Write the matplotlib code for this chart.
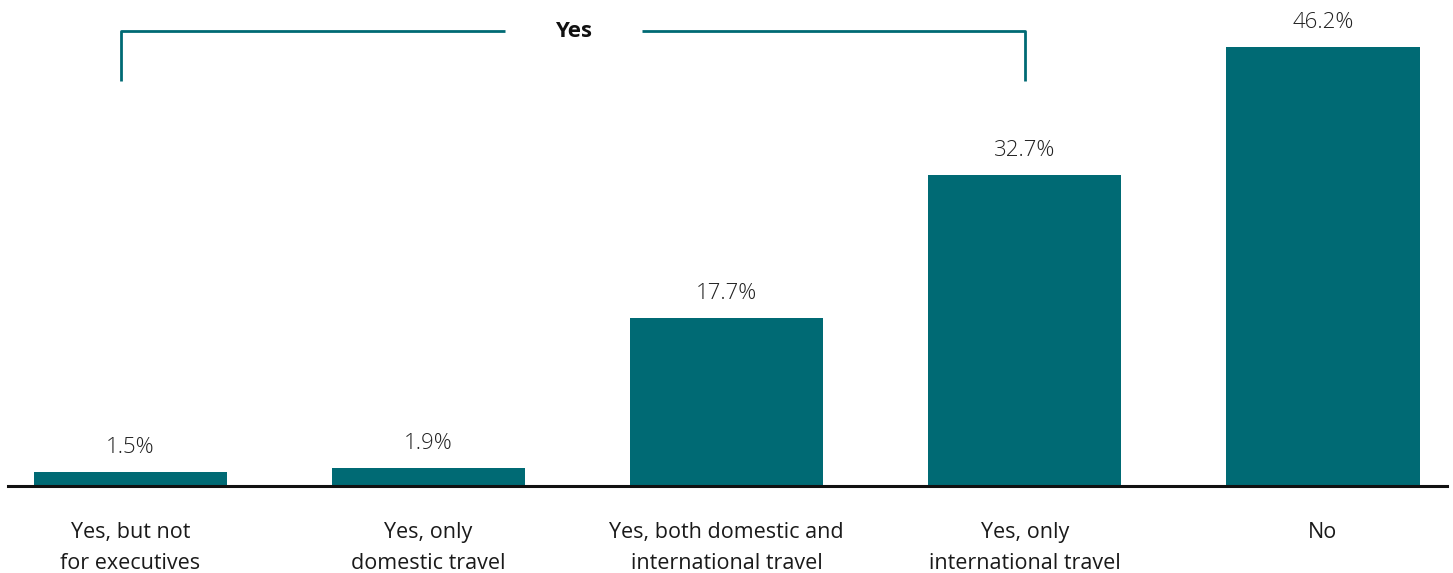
import matplotlib
matplotlib.use("Agg")
import matplotlib.pyplot as plt

categories = ["Yes, but not\nfor executives", "Yes, only\ndomestic travel",
              "Yes, both domestic and\ninternational travel", "Yes, only\ninternational travel", "No"]
values = [1.5, 1.9, 17.7, 32.7, 46.2]
value_labels = ["1.5%", "1.9%", "17.7%", "32.7%", "46.2%"]
bracket_label = "Yes"

TEAL = "#006a74"
plt.rcParams['font.family'] = ['Open Sans', 'DejaVu Sans']

W, H = 1453, 573
fig = plt.figure(figsize=(W / 100, H / 100), dpi=100)
ax = fig.add_axes([8 / W, (H - 486) / H, (1447 - 8) / W, 486 / H])

x = list(range(len(values)))
bars = ax.bar(x, values, width=0.648, color=TEAL, zorder=2)
ax.set_xlim(-0.41, 4.416)
ax.set_ylim(0, 51.15)

for xi, v, lab in zip(x, values, value_labels):
    ax.annotate(lab, (xi, v), xytext=(0, 10), textcoords="offset points",
                ha="center", va="bottom", fontsize=16, color="#222222",
                fontweight="light")

ax.set_xticks(x)
ax.set_xticklabels(categories, fontsize=15.5, color="#1a1a1a", linespacing=1.62)
ax.tick_params(axis="x", length=0, pad=26)
ax.set_yticks([])
for s in ["top", "right", "left"]:
    ax.spines[s].set_visible(False)
ax.spines["bottom"].set_linewidth(2.2)
ax.spines["bottom"].set_color("#111111")

# bracket over the "Yes" answers
y_top, y_bot = 47.88, 42.62
xl, xr = -0.03, 3.0
gap_l, gap_r = 1.258, 1.715
kw = dict(color=TEAL, lw=2, clip_on=False, solid_capstyle="butt")
ax.plot([xl, xl, gap_l], [y_bot, y_top, y_top], **kw)
ax.plot([gap_r, xr, xr], [y_top, y_top, y_bot], **kw)
ax.text((gap_l + gap_r) / 2, y_top, bracket_label, ha="center", va="center",
        fontsize=16, fontweight="bold", color="#111111")

fig.savefig("out.png", dpi=100)
